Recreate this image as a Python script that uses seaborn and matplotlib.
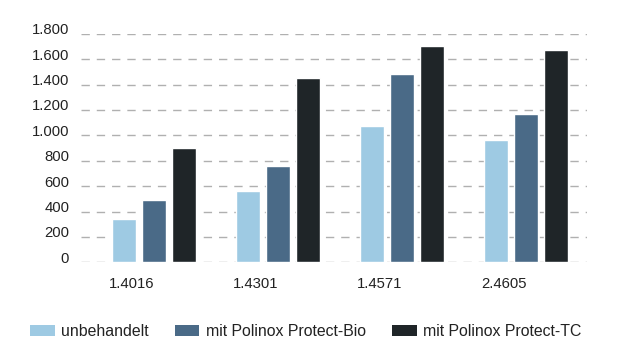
import matplotlib
matplotlib.use("Agg")
import matplotlib.pyplot as plt
import matplotlib.transforms as mtransforms
import seaborn as sns
import pandas as pd
from matplotlib.ticker import FuncFormatter
from matplotlib.patches import Patch

categories = ["1.4016", "1.4301", "1.4571", "2.4605"]
series_names = ["unbehandelt", "mit Polinox Protect-Bio", "mit Polinox Protect-TC"]
unbehandelt = [340, 560, 1070, 965]
protect_bio = [490, 760, 1480, 1170]
protect_tc = [900, 1450, 1700, 1670]
y_ticks = [0, 200, 400, 600, 800, 1000, 1200, 1400, 1600, 1800]

colors = ["#9ecae3", "#4a6a87", "#1f2528"]

rows = []
for name, vals in zip(series_names, [unbehandelt, protect_bio, protect_tc]):
    for c, v in zip(categories, vals):
        rows.append({"Werkstoff": c, "Serie": name, "Wert": v})
df = pd.DataFrame(rows)

sns.set_style("white")
plt.rcParams["font.family"] = ["Liberation Sans", "DejaVu Sans"]

FS_TICK = 10.7
FS_LEG = 11.4
fig = plt.figure(figsize=(6.2, 3.63), dpi=100)
ax = fig.add_axes([81/620, 1-262.3/363, (587-81)/620, (262.3-33.7)/363])

sns.barplot(data=df, x="Werkstoff", y="Wert", hue="Serie", palette=colors,
            width=0.7245, gap=0.2, ax=ax, legend=False, saturation=1)

ax.set_xlim(-0.584, 3.49)
ax.set_ylim(0, 1800)
ax.set_yticks(y_ticks)
ax.yaxis.set_major_formatter(FuncFormatter(lambda v, p: f"{int(v):,}".replace(",", ".")))
ax.grid(axis="y", color="#b0b0b0", linestyle=(0, (6, 5)), linewidth=1)
ax.set_axisbelow(True)
for s in ax.spines.values():
    s.set_visible(False)

ax.set_xticks([i - 0.3623 for i in range(len(categories))])
ax.set_xticklabels(categories, ha="left")
ax.tick_params(axis="x", length=0, pad=10.5, labelsize=FS_TICK, labelcolor="#222222")
ax.tick_params(axis="y", length=0, pad=8.5, labelsize=FS_TICK, labelcolor="#222222")
ax.set_xlabel("")
ax.set_ylabel("")

shift = mtransforms.ScaledTranslation(0, 5/100, fig.dpi_scale_trans)
for lbl in ax.get_yticklabels():
    lbl.set_transform(lbl.get_transform() + shift)

handles = [Patch(facecolor=c, edgecolor="none") for c in colors]
fig.legend(handles, series_names, loc="center left", ncol=3,
           bbox_to_anchor=(30/620, 1-331.7/363), frameon=False, borderpad=0,
           borderaxespad=0, handlelength=1.55, handleheight=0.63,
           handletextpad=0.42, columnspacing=1.65, fontsize=FS_LEG,
           labelcolor="#222222")

fig.savefig("out.png", dpi=100)
